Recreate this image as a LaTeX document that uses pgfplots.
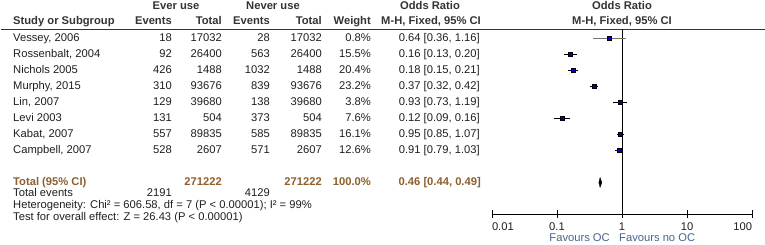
\documentclass[border=0pt]{standalone}
\usepackage{fontspec}
\setmainfont{Liberation Sans}
\usepackage{pgfplots}
\usepackage{pgfplotstable}
\pgfplotsset{compat=1.18}
\definecolor{hdr}{RGB}{51,51,51}
\definecolor{tot}{RGB}{140,95,45}
\definecolor{fav}{RGB}{70,100,140}
\definecolor{mblue}{RGB}{0,0,205}
\newcommand\fs{\fontsize{11.2bp}{13bp}\selectfont}
\pgfplotstableread{
y      or    lo    hi    s
206.5  0.64  0.36  1.16  0.75
190.5  0.16  0.13  0.20  2.75
174.5  0.18  0.15  0.21  3.15
158.5  0.37  0.32  0.42  3.35
142.5  0.93  0.73  1.19  1.35
126.5  0.12  0.09  0.16  1.95
110.5  0.95  0.85  1.07  2.80
94.5   0.91  0.79  1.03  2.50
}\studies
\newcommand\row[8]{%
  \node[anchor=mid west] at (13bp,#1bp) {#2};
  \node[anchor=mid east] at (172bp,#1bp) {#3};
  \node[anchor=mid east] at (222bp,#1bp) {#4};
  \node[anchor=mid east] at (270bp,#1bp) {#5};
  \node[anchor=mid east] at (322bp,#1bp) {#6};
  \node[anchor=mid east] at (371bp,#1bp) {#7};
  \node[anchor=mid east] at (480bp,#1bp) {#8};
}
\begin{document}
\begin{tikzpicture}[every node/.style={font=\fs, inner sep=0pt, text=black!88}]
\path[use as bounding box] (0,0) rectangle (765bp,245bp);
% headers
\begin{scope}[every node/.append style={font=\fs\bfseries, text=hdr}]
\node[anchor=mid] at (176bp,238bp) {Ever use};
\node[anchor=mid] at (273bp,238bp) {Never use};
\node[anchor=mid] at (430bp,238bp) {Odds Ratio};
\node[anchor=mid] at (622bp,238bp) {Odds Ratio};
\node[anchor=mid west] at (13bp,223bp) {Study or Subgroup};
\node[anchor=mid east] at (172bp,223bp) {Events};
\node[anchor=mid east] at (222bp,223bp) {Total};
\node[anchor=mid east] at (270bp,223bp) {Events};
\node[anchor=mid east] at (322bp,223bp) {Total};
\node[anchor=mid east] at (371bp,223bp) {Weight};
\node[anchor=mid east] at (481bp,223bp) {M-H, Fixed, 95\% CI};
\node[anchor=mid] at (622bp,223bp) {M-H, Fixed, 95\% CI};
\end{scope}
\draw[line width=0.9bp, black!80] (1bp,215.5bp) -- (765bp,215.5bp);
% rows
\row{206.5}{Vessey, 2006}{18}{17032}{28}{17032}{0.8\%}{0.64 [0.36, 1.16]}
\row{190.5}{Rossenbalt, 2004}{92}{26400}{563}{26400}{15.5\%}{0.16 [0.13, 0.20]}
\row{174.5}{Nichols 2005}{426}{1488}{1032}{1488}{20.4\%}{0.18 [0.15, 0.21]}
\row{158.5}{Murphy, 2015}{310}{93676}{839}{93676}{23.2\%}{0.37 [0.32, 0.42]}
\row{142.5}{Lin, 2007}{129}{39680}{138}{39680}{3.8\%}{0.93 [0.73, 1.19]}
\row{126.5}{Levi 2003}{131}{504}{373}{504}{7.6\%}{0.12 [0.09, 0.16]}
\row{110.5}{Kabat, 2007}{557}{89835}{585}{89835}{16.1\%}{0.95 [0.85, 1.07]}
\row{94.5}{Campbell, 2007}{528}{2607}{571}{2607}{12.6\%}{0.91 [0.79, 1.03]}
\begin{scope}[every node/.append style={font=\fs\bfseries, text=tot}]
\node[anchor=mid west] at (13bp,62.5bp) {Total (95\% CI)};
\node[anchor=mid east] at (222bp,62.5bp) {271222};
\node[anchor=mid east] at (322bp,62.5bp) {271222};
\node[anchor=mid east] at (371bp,62.5bp) {100.0\%};
\node[anchor=mid east] at (481bp,62.5bp) {0.46 [0.44, 0.49]};
\end{scope}
\node[anchor=mid west] at (13bp,51bp) {Total events};
\node[anchor=mid east] at (172bp,51bp) {2191};
\node[anchor=mid east] at (270bp,51bp) {4129};
\node[anchor=mid west] at (13bp,39bp) {Heterogeneity: Chi² = 606.58, df = 7 (P < 0.00001); I² = 99\%};
\node[anchor=mid west] at (13bp,27bp) {Test for overall effect: Z = 26.43 (P < 0.00001)};
\node[anchor=mid east, text=fav] at (610bp,6bp) {Favours OC};
\node[anchor=mid west, text=fav] at (619bp,6bp) {Favours no OC};
\begin{axis}[
  at={(492bp,31bp)}, anchor=south west,
  scale only axis, width=260bp, height=184.5bp,
  xmode=log, xmin=0.01, xmax=100, ymin=31, ymax=215.5,
  axis x line*=bottom, axis y line=none,
  x axis line style={-, line width=0.75bp, black},
  xtick={0.01,0.1,1,10,100},
  xticklabels={\makebox[0pt][l]{0.01},0.1,1,10,\makebox[0pt][r]{100}},
  xminorticks=false,
  tick align=center, major tick length=7bp,
  tick style={black, line width=0.7bp},
  xticklabel style={font=\fs, inner sep=0pt, anchor=north, yshift=-5bp, text=black!88},
  /pgf/number format/assume math mode=true,
  clip=false,
]
\addplot[black, line width=0.75bp] coordinates {(1,31) (1,215.5)};
\addplot[black!55, line width=0.75bp] coordinates {(0.36,206.5) (1.16,206.5)};
\addplot[black, line width=0.75bp] coordinates {(0.13,190.5) (0.20,190.5)};
\addplot[black, line width=0.75bp] coordinates {(0.15,174.5) (0.21,174.5)};
\addplot[black, line width=0.75bp] coordinates {(0.32,158.5) (0.42,158.5)};
\addplot[black, line width=0.75bp] coordinates {(0.73,142.5) (1.19,142.5)};
\addplot[black, line width=0.75bp] coordinates {(0.09,126.5) (0.16,126.5)};
\addplot[black, line width=0.75bp] coordinates {(0.85,110.5) (1.07,110.5)};
\addplot[black, line width=0.75bp] coordinates {(0.79,94.5) (1.03,94.5)};
\addplot[scatter, only marks, mark=square*, point meta=explicit,
  visualization depends on={\thisrow{s} \as \msize},
  scatter/@pre marker code/.append style={/tikz/mark size=\msize},
  scatter/use mapped color={draw=none, fill=mblue}]
  table[x=or, y=y, meta=s] {\studies};
\addplot[fill=black, draw=black, line width=0.3bp] coordinates {(0.44,62.5) (0.46,67.5) (0.49,62.5) (0.46,57.5) (0.44,62.5)} -- cycle;
\end{axis}
\end{tikzpicture}
\end{document}
